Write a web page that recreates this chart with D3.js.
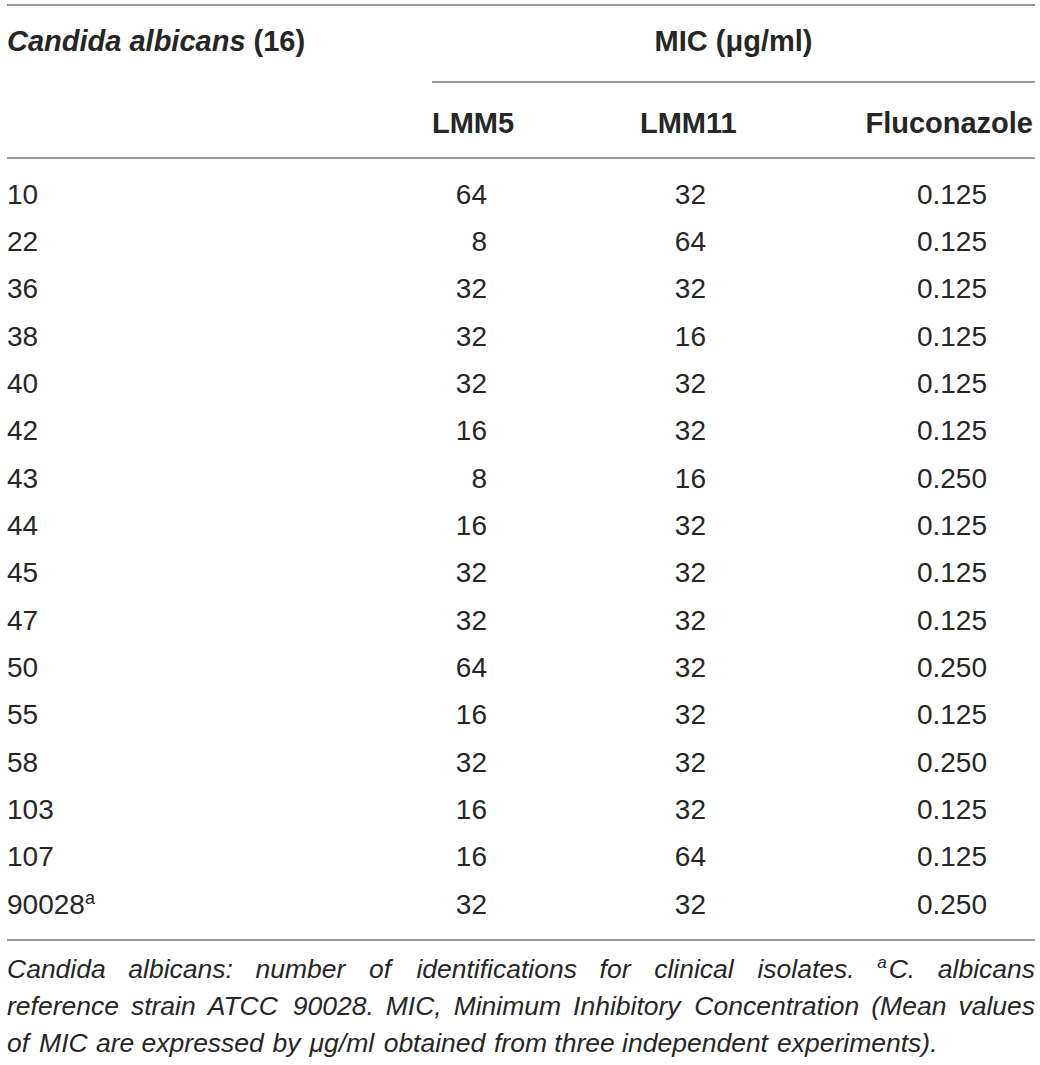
<!DOCTYPE html>
<html>
<head>
<meta charset="utf-8">
<script src="https://cdn.jsdelivr.net/npm/d3@7"></script>
<style>
  html, body { margin: 0; padding: 0; background: #fff; }
  svg { display: block; font-family: "Liberation Sans", Arial, sans-serif; }
</style>
</head>
<body>
<svg id="tbl" width="1040" height="1065"></svg>
<script>
// table data
const isolates = ["10", "22", "36", "38", "40", "42", "43", "44", "45", "47", "50", "55", "58", "103", "107", "90028"];
const isolateMarks = ["", "", "", "", "", "", "", "", "", "", "", "", "", "", "", "a"];
const lmm5 = [64, 8, 32, 32, 32, 16, 8, 16, 32, 32, 64, 16, 32, 16, 16, 32];
const lmm11 = [32, 64, 32, 16, 32, 32, 16, 32, 32, 32, 32, 32, 32, 32, 64, 32];
const fluconazole = ["0.125", "0.125", "0.125", "0.125", "0.125", "0.125", "0.250", "0.125", "0.125", "0.125", "0.250", "0.125", "0.250", "0.125", "0.125", "0.250"];
const compounds = ["LMM5", "LMM11", "Fluconazole"];
const groupTitle = "MIC (μg/ml)";
const footLines = [
  "Candida albicans: number of identifications for clinical isolates. ^aC. albicans",
  "reference strain ATCC 90028. MIC, Minimum Inhibitory Concentration (Mean values",
  "of MIC are expressed by μg/ml obtained from three independent experiments)."
];

const svg = d3.select("#tbl");
const ink = "#262626";
const rule = "#7a7a7a";
const left = 7, right = 1035;

// rules
const rules = [
  { y: 5, x0: left, x1: right },
  { y: 82, x0: 432, x1: right },
  { y: 158, x0: left, x1: right },
  { y: 940, x0: left, x1: right }
];
svg.selectAll("line.rule")
  .data(rules)
  .join("line")
  .attr("class", "rule")
  .attr("x1", d => d.x0)
  .attr("x2", d => d.x1)
  .attr("y1", d => d.y)
  .attr("y2", d => d.y)
  .attr("stroke", rule)
  .attr("stroke-width", 1.6);

// header
const h1 = svg.append("text")
  .attr("x", left)
  .attr("y", 51)
  .attr("font-size", 29)
  .attr("font-weight", "bold")
  .attr("fill", ink);
h1.append("tspan").attr("font-style", "italic").text("Candida albicans");
h1.append("tspan").text(" (16)");

svg.append("text")
  .attr("x", (432 + right) / 2)
  .attr("y", 51)
  .attr("text-anchor", "middle")
  .attr("font-size", 29)
  .attr("font-weight", "bold")
  .attr("fill", ink)
  .text(groupTitle);

// column headers (left edges / anchors)
const headX = d3.scaleOrdinal().domain(compounds).range([432, 640, 1033]);
const headAnchor = d3.scaleOrdinal().domain(compounds).range(["start", "start", "end"]);
svg.selectAll("text.colhead")
  .data(compounds)
  .join("text")
  .attr("class", "colhead")
  .attr("x", d => headX(d))
  .attr("y", 133)
  .attr("text-anchor", d => headAnchor(d))
  .attr("font-size", 29)
  .attr("font-weight", "bold")
  .attr("fill", ink)
  .text(d => d);

// body rows
const y = d3.scalePoint().domain(d3.range(isolates.length)).range([203.5, 913.5]);
const valX = d3.scaleOrdinal().domain(compounds).range([487, 706, 987]);
const cols = [lmm5, lmm11, fluconazole];

const rows = svg.selectAll("g.row")
  .data(isolates)
  .join("g")
  .attr("class", "row")
  .attr("transform", (d, i) => `translate(0,${y(i)})`);

const first = rows.append("text")
  .attr("x", left)
  .attr("font-size", 28)
  .attr("fill", ink);
first.append("tspan").text(d => d);
first.append("tspan")
  .attr("dy", -10)
  .attr("font-size", 18)
  .text((d, i) => isolateMarks[i]);

compounds.forEach((c, k) => {
  rows.append("text")
    .attr("x", valX(c))
    .attr("text-anchor", "end")
    .attr("font-size", 28)
    .attr("fill", ink)
    .text((d, i) => cols[k][i]);
});

// footnote, justified like the source
const footY = d3.scalePoint().domain(d3.range(footLines.length)).range([978, 1052]);
const footSize = 26.5;

function wordNode(g, w) {
  const t = g.append("text")
    .attr("font-size", footSize)
    .attr("font-style", "italic")
    .attr("fill", ink);
  if (w.startsWith("^")) {
    t.append("tspan").attr("dy", -10).attr("font-size", 17).text(w[1]);
    t.append("tspan").attr("dy", 10).attr("dx", 2).text(w.slice(2));
  } else {
    t.text(w);
  }
  return t;
}

footLines.forEach((line, li) => {
  const g = svg.append("g").attr("transform", `translate(${left},${footY(li)})`);
  const words = line.split(" ");
  const nodes = words.map(w => wordNode(g, w));
  const widths = nodes.map(n => n.node().getBBox().width);
  const total = d3.sum(widths);
  const avail = right - left;
  const last = li === footLines.length - 1;
  const space = footSize * 0.278;
  let gap = last ? space : (avail - total) / (words.length - 1);
  let scale = 1;
  if (gap < 4) {
    gap = 4;
    scale = avail / (total + gap * (words.length - 1));
  }
  let x = 0;
  nodes.forEach((n, i) => {
    n.attr("x", x);
    x += widths[i] + gap;
  });
  if (scale !== 1) g.attr("transform", `translate(${left},${footY(li)}) scale(${scale},1)`);
});
</script>
</body>
</html>
